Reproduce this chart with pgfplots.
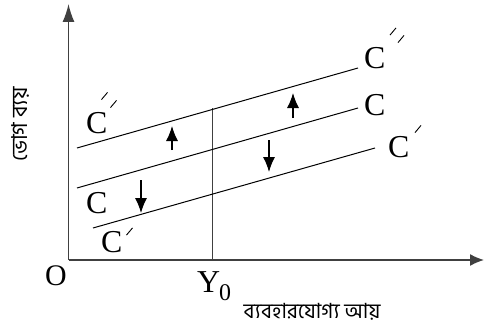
\documentclass[border=0pt]{standalone}
\usepackage{pgfplots}
\pgfplotsset{compat=1.18}
\usepackage{fontspec}
\setmainfont{Liberation Serif}
\newfontfamily\bn[Script=Bengali]{Hind Siliguri}
\usetikzlibrary{arrows.meta}
\newcommand{\stroke}{\rotatebox{-40}{\rule{0.9bp}{9.5bp}}}
\tikzset{
  axarrow/.style={-{Latex[length=18bp,width=12bp]}},
  axarrowx/.style={-{Latex[length=14bp,width=12bp]}},
  smarrow/.style={-{Latex[length=15bp,width=12bp]}},
}
\begin{document}
\begin{tikzpicture}[x=1bp,y=1bp]
\begin{axis}[
  width=484bp, height=329bp, scale only axis,
  xmin=0, xmax=484, ymin=0, ymax=329, y dir=reverse,
  hide axis, clip=false,
]
% axes
\addplot[black!75, line width=1.4pt, axarrow] coordinates {(68.5,260) (68.5,4)};
\addplot[black!75, line width=1.4pt, axarrowx] coordinates {(68.5,260) (484,260)};
% Y0 vertical
\addplot[black!75, line width=1pt] coordinates {(212,260) (212,108)};
% consumption lines
\addplot[black, line width=1pt] coordinates {(77,148) (358,68)};
\addplot[black, line width=1pt] coordinates {(77,188) (358,108)};
\addplot[black, line width=1pt] coordinates {(93,228) (375,148)};
% shift arrows
\addplot[black, line width=1.2pt, smarrow] coordinates {(172,150) (172,126)};
\addplot[black, line width=1.2pt, smarrow] coordinates {(293,118) (293,93)};
\addplot[black, line width=1.2pt, smarrow] coordinates {(141,180) (141,213)};
\addplot[black, line width=1.2pt, smarrow] coordinates {(269,140) (269,172)};
% labels
\begin{scope}[every node/.style={inner sep=0pt, font=\fontsize{32}{32}\selectfont}]
\node[anchor=base west] at (axis cs:86,133) {C};
\node[anchor=base west] at (axis cs:86,213) {C};
\node[anchor=base west] at (axis cs:101,252) {C};
\node[anchor=base west] at (axis cs:364,68) {C};
\node[anchor=base west] at (axis cs:364,115) {C};
\node[anchor=base west] at (axis cs:388,157) {C};
\node[anchor=base west, font=\fontsize{30}{30}\selectfont] at (axis cs:45,285) {O};
\node[anchor=base west] at (axis cs:197,292) {Y};
\node[anchor=base west, font=\fontsize{24}{24}\selectfont] at (axis cs:219,300) {0};
\end{scope}
% primes
\begin{scope}[every node/.style={inner sep=0pt}]
\node at (axis cs:104.5,96) {\stroke};
\node at (axis cs:113.5,104) {\stroke};
\node at (axis cs:393,31.5) {\stroke};
\node at (axis cs:401,39) {\stroke};
\node at (axis cs:129.5,231.5) {\stroke};
\node at (axis cs:418,129) {\stroke};
\end{scope}
\node[inner sep=0pt, anchor=base, font=\bn\fontsize{21}{21}\selectfont] at (axis cs:312,318) {\smash{ব্যবহারযোগ্য আয়}};
\node[inner sep=0pt, rotate=90, font=\bn\fontsize{22}{22}\selectfont] at (axis cs:20,124) {ভোগ ব্যয়};
\end{axis}
\pgfresetboundingbox
\path (current axis.south west) rectangle (current axis.north east);
\end{tikzpicture}
\end{document}
